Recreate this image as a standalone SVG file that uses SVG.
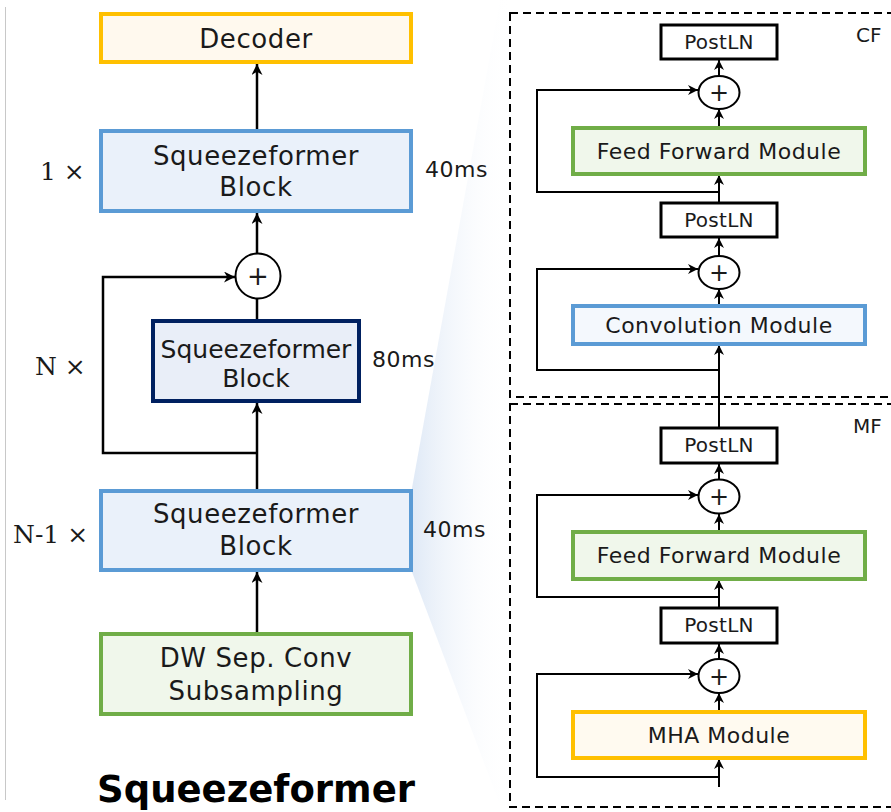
<svg xmlns="http://www.w3.org/2000/svg" width="891" height="812" viewBox="0 0 891 812">
<style>
.t{font-family:"DejaVu Sans",sans-serif;fill:#1a1a1a;text-anchor:middle}
.lt{font-family:"DejaVu Sans",sans-serif;font-size:26px;letter-spacing:0.6px}
.rt{font-family:"DejaVu Sans",sans-serif;font-size:22px;letter-spacing:0.5px}
.ln{font-family:"DejaVu Sans",sans-serif;font-size:20px;letter-spacing:0.3px}
.ser{font-family:"DejaVu Serif",serif;font-size:25px;fill:#1a1a1a}
.ms{font-family:"DejaVu Sans",sans-serif;font-size:22px;fill:#1a1a1a;letter-spacing:0.5px}
.c{fill:none;stroke:#000;stroke-width:2.5}
.cr{fill:none;stroke:#000;stroke-width:2}
.pl{fill:#fff;stroke:#000;stroke-width:3}
.sum{fill:#fff;stroke:#000;stroke-width:2}
.dash{fill:none;stroke:#000;stroke-width:2;stroke-dasharray:8 5}
</style>
<defs>
<marker id="ah" viewBox="0 0 10 10" refX="10" refY="5" markerWidth="11" markerHeight="11" markerUnits="userSpaceOnUse" orient="auto"><path d="M0,0 L10,5 L0,10 L3,5 Z" fill="#000"/></marker>
<marker id="ahs" viewBox="0 0 10 10" refX="10" refY="5" markerWidth="10" markerHeight="10" markerUnits="userSpaceOnUse" orient="auto"><path d="M0,0 L10,5 L0,10 L3,5 Z" fill="#000"/></marker>
<linearGradient id="wg" x1="412" y1="0" x2="512" y2="0" gradientUnits="userSpaceOnUse">
<stop offset="0" stop-color="#dfe9f6"/>
<stop offset="1" stop-color="#ffffff" stop-opacity="0"/>
</linearGradient>
</defs>
<rect width="891" height="812" fill="#fff"/>
<line x1="5.5" y1="7" x2="5.5" y2="800" stroke="#c8c8c8" stroke-width="1"/>
<polygon points="500,0 412,488 412,572 500,805 512,805 512,0" fill="url(#wg)"/>

<g id="connectors">
<line class="c" x1="257" y1="130" x2="257" y2="64" marker-end="url(#ah)"/>
<line class="c" x1="257" y1="253" x2="257" y2="213" marker-end="url(#ah)"/>
<line class="c" x1="257" y1="320" x2="257" y2="299"/>
<line class="c" x1="257" y1="489" x2="257" y2="403" marker-end="url(#ah)"/>
<path class="c" d="M257,453 H103 V277 H235" marker-end="url(#ah)"/>
<line class="c" x1="257" y1="632" x2="257" y2="572" marker-end="url(#ah)"/>

<line class="cr" x1="719" y1="76" x2="719" y2="60" marker-end="url(#ahs)"/>
<line class="cr" x1="719" y1="128" x2="719" y2="109" marker-end="url(#ahs)"/>
<line class="cr" x1="719" y1="203" x2="719" y2="175" marker-end="url(#ahs)"/>
<path class="cr" d="M719,192 H537 V90 H698" marker-end="url(#ahs)"/>
<line class="cr" x1="719" y1="256" x2="719" y2="238" marker-end="url(#ahs)"/>
<line class="cr" x1="719" y1="306" x2="719" y2="289" marker-end="url(#ahs)"/>
<path class="cr" d="M719,370 H537 V269 H698" marker-end="url(#ahs)"/>
<line class="cr" x1="719" y1="428" x2="719" y2="345" marker-end="url(#ahs)"/>
<line class="cr" x1="719" y1="479" x2="719" y2="464" marker-end="url(#ahs)"/>
<line class="cr" x1="719" y1="532" x2="719" y2="514" marker-end="url(#ahs)"/>
<path class="cr" d="M719,597 H537 V495 H698" marker-end="url(#ahs)"/>
<line class="cr" x1="719" y1="608" x2="719" y2="580" marker-end="url(#ahs)"/>
<line class="cr" x1="719" y1="659" x2="719" y2="644" marker-end="url(#ahs)"/>
<line class="cr" x1="719" y1="712" x2="719" y2="693" marker-end="url(#ahs)"/>
<path class="cr" d="M719,777 H537 V674 H698" marker-end="url(#ahs)"/>
<line class="cr" x1="719" y1="787" x2="719" y2="759" marker-end="url(#ahs)"/>
</g>

<g id="decoder">
<rect x="101" y="14" width="310" height="48" fill="#fff9ee" stroke="#ffc000" stroke-width="4"/>
<text class="t lt" x="256" y="48">Decoder</text>
</g>
<g id="block1">
<rect x="101" y="131" width="310" height="80" fill="#eaf1fa" stroke="#5b9bd5" stroke-width="4"/>
<text class="t lt" x="256" y="165">Squeezeformer</text>
<text class="t lt" x="256" y="196">Block</text>
</g>
<g id="sum-left">
<circle class="sum" cx="258" cy="276" r="22.5"/>
<text class="t" x="258" y="285" font-size="26">+</text>
</g>
<g id="block80">
<rect x="153" y="321" width="206" height="80" fill="#e9eef8" stroke="#002060" stroke-width="4"/>
<text class="t" x="256" y="358" font-size="25">Squeezeformer</text>
<text class="t" x="256" y="387" font-size="25">Block</text>
</g>
<g id="blockN1">
<rect x="101" y="491" width="310" height="79" fill="#eaf1fa" stroke="#5b9bd5" stroke-width="4"/>
<text class="t lt" x="256" y="523">Squeezeformer</text>
<text class="t lt" x="256" y="555">Block</text>
</g>
<g id="dwconv">
<rect x="101" y="634" width="310" height="80" fill="#f0f7eb" stroke="#70ad47" stroke-width="4"/>
<text class="t lt" x="256" y="667">DW Sep. Conv</text>
<text class="t lt" x="256" y="700">Subsampling</text>
</g>
<g id="labels">
<text class="ser" x="40" y="180">1 ×</text>
<text class="ser" x="35" y="375">N ×</text>
<text class="ser" x="13" y="543">N-1 ×</text>
<text class="ms" x="425" y="177">40ms</text>
<text class="ms" x="372" y="367">80ms</text>
<text class="ms" x="423" y="537">40ms</text>
<text x="256" y="802" font-family="DejaVu Sans, sans-serif" font-weight="bold" font-size="37" text-anchor="middle" fill="#000">Squeezeformer</text>
</g>

<g id="cf">
<rect class="dash" x="510" y="13" width="400" height="384"/>
<text x="856" y="42" font-family="DejaVu Sans, sans-serif" font-size="20" fill="#1a1a1a">CF</text>
</g>
<g id="mf">
<rect class="dash" x="510" y="404" width="400" height="403"/>
<text x="853" y="433" font-family="DejaVu Sans, sans-serif" font-size="20" fill="#1a1a1a">MF</text>
</g>

<g id="postln1"><rect class="pl" x="661" y="25" width="116" height="34"/><text class="t ln" x="719" y="49">PostLN</text></g>
<g id="sum1"><ellipse class="sum" cx="719" cy="92.5" rx="20.5" ry="16.5"/><text class="t" x="719" y="101" font-size="24">+</text></g>
<g id="ffm1"><rect x="573" y="128" width="292" height="46" fill="#f0f7eb" stroke="#70ad47" stroke-width="4"/><text class="t rt" x="719" y="159">Feed Forward Module</text></g>
<g id="postln2"><rect class="pl" x="661" y="203" width="116" height="34"/><text class="t ln" x="719" y="227">PostLN</text></g>
<g id="sum2"><ellipse class="sum" cx="719" cy="272.5" rx="20.5" ry="16.5"/><text class="t" x="719" y="281" font-size="24">+</text></g>
<g id="conv"><rect x="573" y="306" width="292" height="38" fill="#f4f8fd" stroke="#5b9bd5" stroke-width="4"/><text class="t rt" x="719" y="333">Convolution Module</text></g>

<g id="postln3"><rect class="pl" x="661" y="428" width="116" height="35"/><text class="t ln" x="719" y="452">PostLN</text></g>
<g id="sum3"><ellipse class="sum" cx="719" cy="496.5" rx="20.5" ry="17"/><text class="t" x="719" y="505" font-size="24">+</text></g>
<g id="ffm2"><rect x="573" y="532" width="292" height="47" fill="#f0f7eb" stroke="#70ad47" stroke-width="4"/><text class="t rt" x="719" y="563">Feed Forward Module</text></g>
<g id="postln4"><rect class="pl" x="661" y="608" width="116" height="35"/><text class="t ln" x="719" y="632">PostLN</text></g>
<g id="sum4"><ellipse class="sum" cx="719" cy="676" rx="20.5" ry="17"/><text class="t" x="719" y="684.5" font-size="24">+</text></g>
<g id="mha"><rect x="573" y="712" width="292" height="46" fill="#fffaf0" stroke="#ffc000" stroke-width="4"/><text class="t rt" x="719" y="743">MHA Module</text></g>
</svg>
